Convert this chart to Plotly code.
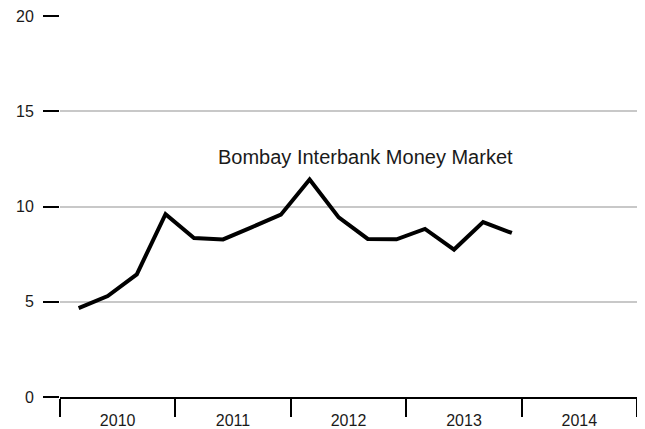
import plotly.graph_objects as go

# Quarterly call money rate, Bombay interbank market (%)
dates = [
    '2010-03-01', '2010-06-01', '2010-09-01', '2010-12-01',
    '2011-03-01', '2011-06-01', '2011-09-01', '2011-12-01',
    '2012-03-01', '2012-06-01', '2012-09-01', '2012-12-01',
    '2013-03-01', '2013-06-01', '2013-09-01', '2013-12-01',
]
rates = [4.67, 5.30, 6.44, 9.60, 8.35, 8.27, 8.92, 9.57,
         11.42, 9.43, 8.30, 8.28, 8.82, 7.74, 9.18, 8.61]

label_text = 'Bombay Interbank Money Market'
label_x = '2012-08-26'
label_y = 12.6

fig = go.Figure()
fig.add_trace(go.Scatter(
    x=dates, y=rates, mode='lines',
    line=dict(color='black', width=4),
    showlegend=False, hoverinfo='x+y',
))

fig.add_annotation(
    x=label_x, y=label_y, text=label_text, showarrow=False,
    font=dict(size=20, color='#1a1a1a'),
)

# page body keeps its default 8px margin, so the figure is sized to fit inside it
fig.update_layout(
    width=637, height=421,
    margin=dict(l=52, r=8, t=8, b=32),
    paper_bgcolor='white', plot_bgcolor='white',
    font=dict(family='Liberation Sans, Arial, sans-serif', size=16, color='#1a1a1a'),
    xaxis=dict(
        type='date', range=['2010-01-01', '2015-01-01'],
        tick0='2010-01-01', dtick='M12', tickformat='%Y',
        ticklabelmode='period', ticklabelstandoff=-10,
        ticks='outside', ticklen=18, tickwidth=2, tickcolor='black',
        showline=True, linecolor='black', linewidth=2,
        showgrid=False, zeroline=False, automargin=False,
        ticklabeloverflow='allow',
    ),
    yaxis=dict(
        range=[0, 20], dtick=5, tick0=0,
        ticks='outside', ticklen=16, tickwidth=2, tickcolor='black',
        ticklabelstandoff=6, ticklabeloverflow='allow',
        showgrid=True, gridcolor='#c8c8c8', gridwidth=2,
        showline=False, zeroline=False, automargin=False,
    ),
)

fig.write_html('out.html')
